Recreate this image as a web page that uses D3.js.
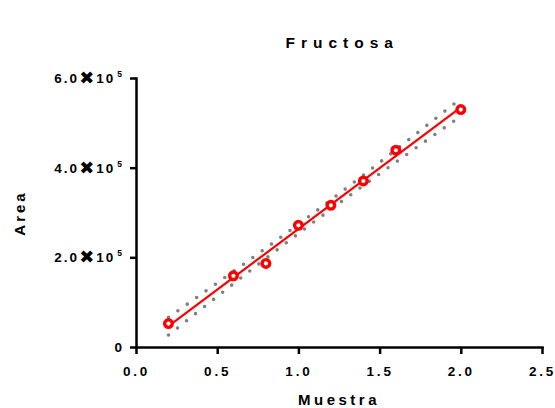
<!DOCTYPE html>
<html>
<head>
<meta charset="utf-8">
<script src="https://cdn.jsdelivr.net/npm/d3@7"></script>
<style>
  body { margin: 0; background: #fff; }
  svg { display: block; font-family: 'Liberation Sans', Arial, 'DejaVu Sans', sans-serif; font-weight: bold; }
  .axis path, .axis line { stroke: #000; stroke-width: 2.5; }
  .axis text { fill: #000; font-size: 13.5px; letter-spacing: 2.8px; font-weight: bold; }
</style>
</head>
<body>
<div id="container"></div>
<script>
const w = 555,
  h = 408;

// measured points
const muestra = [0.2, 0.6, 0.8, 1.0, 1.2, 1.4, 1.6, 2.0];
const area = [52300, 158700, 186400, 271300, 316000, 370300, 438900, 529600];

// fitted line ends and 95% band
const fitX = [0.2, 2.0];
const fitY = [46300, 534600];
const bandX = [0.2, 0.5, 0.8, 1.1, 1.4, 1.7, 2.0];
const bandUpper = [66000, 142900, 220700, 300600, 383400, 468400, 554300];
const bandLower = [26600, 112500, 197500, 280300, 360200, 438000, 514800];

const xTicks = [0, 0.5, 1.0, 1.5, 2.0, 2.5];
const xTickLabels = ['0.0', '0.5', '1.0', '1.5', '2.0', '2.5'];
const yTicks = [0, 200000, 400000, 600000];
const yTickMant = ['0', '2.0', '4.0', '6.0'];

const xScale = d3.scaleLinear().domain([0, 2.5]).range([136, 542]);
const yScale = d3.scaleLinear().domain([0, 600000]).range([347, 78]);

const svg = d3.select('#container').append('svg').attr('width', w).attr('height', h);

// bands
const bandLine = (vals) =>
  d3
    .line()
    .x((d, i) => xScale(bandX[i]))
    .y((d) => yScale(d))
    .curve(d3.curveNatural)(vals);

[bandUpper, bandLower].forEach((b) => {
  svg
    .append('path')
    .attr('d', bandLine(b))
    .attr('fill', 'none')
    .attr('stroke', '#808080')
    .attr('stroke-width', 3.6)
    .attr('stroke-linecap', 'round')
    .attr('stroke-dasharray', '0 11.5');
});

// fit line
svg
  .append('line')
  .attr('x1', xScale(fitX[0]))
  .attr('y1', yScale(fitY[0]))
  .attr('x2', xScale(fitX[1]))
  .attr('y2', yScale(fitY[1]))
  .attr('stroke', '#ff0000')
  .attr('stroke-width', 2.2);

// axes
const xAxis = d3
  .axisBottom(xScale)
  .tickValues(xTicks)
  .tickSizeInner(7)
  .tickSizeOuter(0)
  .tickPadding(12)
  .tickFormat((d, i) => xTickLabels[i]);

const yAxis = d3.axisLeft(yScale).tickValues(yTicks).tickSizeInner(6).tickSizeOuter(0).tickFormat('');

svg.append('g').attr('class', 'axis').attr('transform', 'translate(0,' + yScale(0) + ')').call(xAxis);
svg.append('g').attr('class', 'axis').attr('transform', 'translate(' + xScale(0) + ',0)').call(yAxis);
svg.selectAll('.axis .domain').attr('stroke-linecap', 'square');

// y tick labels with exponent
yTicks.forEach((v, i) => {
  const t = svg
    .append('text')
    .attr('x', 124)
    .attr('y', yScale(v) + 5)
    .attr('text-anchor', 'end')
    .attr('font-size', 13.5)
    .attr('letter-spacing', 2)
    .text(yTickMant[i]);
  if (v !== 0) {
    t.append('tspan').attr('font-size', 18).attr('font-family', 'DejaVu Sans').attr('dy', 1).text('\u2716');
    t.append('tspan').attr('dy', -1).text('10');
    t.append('tspan').attr('dx', 2).attr('dy', -6).attr('font-size', 8.5).text('5');
  }
});

// points
svg
  .selectAll('circle')
  .data(muestra)
  .enter()
  .append('circle')
  .attr('cx', (d) => xScale(d))
  .attr('cy', (d, i) => yScale(area[i]))
  .attr('r', 3.8)
  .attr('fill', '#fff')
  .attr('stroke', '#ff0000')
  .attr('stroke-width', 3.4);

// titles
svg
  .append('text')
  .text('Fructosa')
  .attr('x', 339 + 3.2)
  .attr('y', 47.5)
  .attr('text-anchor', 'middle')
  .attr('font-size', 15.5)
  .attr('letter-spacing', 6)
  .text('Fructosa');

svg
  .append('text')
  .text('Muestra')
  .attr('x', 339)
  .attr('y', 405)
  .attr('text-anchor', 'middle')
  .attr('font-size', 15)
  .attr('letter-spacing', 3.5);

svg
  .append('text')
  .text('Area')
  .attr('transform', 'translate(24.5, 214.5) rotate(-90)')
  .attr('dx', 1.5)
  .attr('text-anchor', 'middle')
  .attr('font-size', 15)
  .attr('letter-spacing', 3);
</script>
</body>
</html>
